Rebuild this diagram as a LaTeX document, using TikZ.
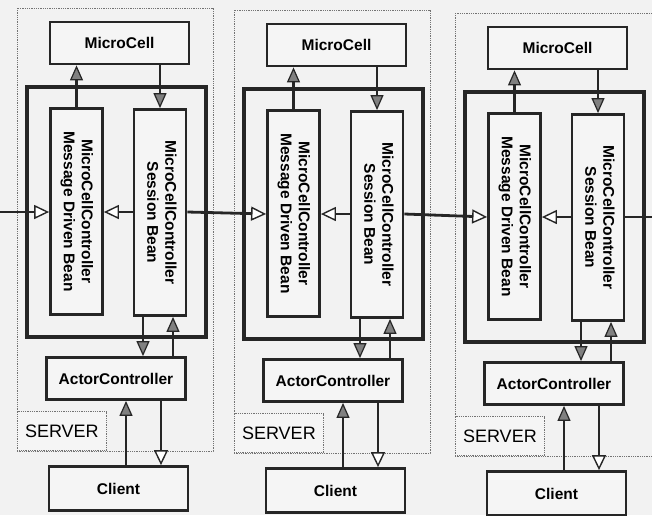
\documentclass[tikz,border=0pt]{standalone}
\usepackage{fontspec}
\setmainfont{Liberation Sans}
\usetikzlibrary{arrows.meta}

\tikzset{
  box/.style={draw=black!85, line width=2.8pt, fill=black!4, inner sep=0pt,
    font=\bfseries\fontsize{15.5}{18}\selectfont},
  bean/.style={box, minimum width=52pt, minimum height=206pt},
  wide/.style={box, minimum width=139pt, minimum height=42pt},
  server/.style={draw=black!55, densely dotted, line width=0.8pt},
  tag/.style={server, fill=black!4, minimum width=89pt, minimum height=39pt,
    font=\fontsize{18}{20}\selectfont},
  container/.style={draw=black!85, line width=3.2pt},
  link/.style={draw=black!85, line width=2.8pt},
  up/.style={link, -{Triangle[length=15pt, width=13pt, fill=black!50, line width=1.2pt]}},
  hollow/.style={link, -{Triangle[length=15pt, width=14pt, fill=white, line width=1.4pt]}},
}

\begin{document}
\begin{tikzpicture}[x=1pt, y=-1pt]
	\path[use as bounding box] (0,0) rectangle (652,515);
	\clip (0,0) rectangle (652,515);
	\fill[black!5] (0,0) rectangle (652,515);

	% three servers, one beside the other
	\foreach \i/\dx/\dy/\sr in {1/0/0/213, 2/217/2/430, 3/438/5/690} {
		\draw[server] (17+\dx, 8+\dy) rectangle (\sr, 451+\dy);
		\node[tag, anchor=south west] (srv\i) at (17+\dx, 451+\dy) {SERVER};
		\draw[container] (27+\dx, 87+\dy) rectangle (206+\dx, 337+\dy);

		\node[wide] (mc\i) at (119.5+\dx, 43+\dy) {MicroCell};
		\node[bean] (mdb\i) at (76.5+\dx, 211.5+\dy)
			{\rotatebox{-90}{\begin{tabular}{@{}c@{}}MicroCellController\\Message Driven Bean\end{tabular}}};
		\node[bean] (sb\i) at (160+\dx, 212.5+\dy)
			{\rotatebox{-90}{\begin{tabular}{@{}c@{}}MicroCellController\\Session Bean\end{tabular}}};
		\node[wide] (ac\i) at (116+\dx, 378.5+\dy) {ActorController};
		\node[wide, minimum height=44pt] (cl\i) at (118.5+\dx, 488.5+\dy) {Client};
		\coordinate (h\i) at (\dx, 212+\dy);

		\draw[up] (mdb\i.north) -- (mdb\i.north |- mc\i.south);
		\draw[up] (mc\i.south -| sb\i.north) -- (sb\i.north);
		\draw[hollow] (sb\i.west |- h\i) -- (mdb\i.east |- h\i);
		\draw[up] ([xshift=-17pt]sb\i.south) -- ([xshift=-17pt]sb\i.south |- ac\i.north);
		\draw[up] ([xshift=13pt]sb\i.south |- ac\i.north) -- ([xshift=13pt]sb\i.south);
		\draw[up] ([xshift=10pt]ac\i.south |- cl\i.north) -- ([xshift=10pt]ac\i.south);
		\draw[hollow] ([xshift=45pt]ac\i.south) -- ([xshift=45pt]ac\i.south |- cl\i.north);
	}

	% messages from one server to the next
	\coordinate (in) at (0, 212);
	\coordinate (out) at (652, 217);
	\draw[hollow] (in) -- (mdb1.west |- in);
	\draw[hollow] (sb1.east |- h1) -- (mdb2.west |- h2);
	\draw[hollow] (sb2.east |- h2) -- (mdb3.west |- h3);
	\draw[link] (sb3.east |- out) -- (out);
\end{tikzpicture}
\end{document}
